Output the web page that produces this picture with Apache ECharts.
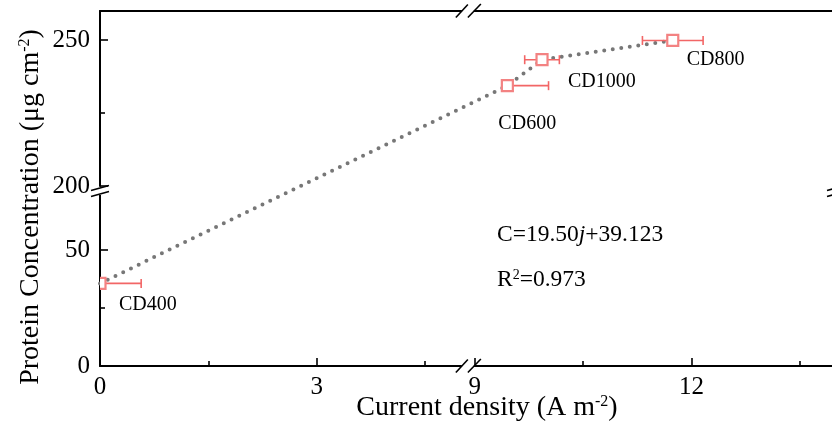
<!DOCTYPE html>
<html>
<head>
<meta charset="utf-8">
<script src="https://cdn.jsdelivr.net/npm/echarts@6.0.0/dist/echarts.min.js"></script>
<style>
html, body { margin: 0; padding: 0; background: #fff; }
#chart { width: 832px; height: 434px; }
</style>
</head>
<body>
<div id="chart"></div>
<script>
// values
const sampleNames = ['CD400', 'CD600', 'CD1000', 'CD800'];
const currentDensity = [0, 9.45, 9.93, 11.74];
const proteinConc = [35.6, 234.4, 243.3, 249.9];
const errLeft = [0, 0, 0.24, 0.42];
const errRight = [0.57, 0.57, 0.24, 0.42];

const xMajorTicks = [0, 3, 9, 12];
const xMinorTicks = [1.5, 4.5, 10.5, 13.5];
const yLowTicks = [0, 50];
const yLowMinor = [25];
const yHighTicks = [200, 250];
const yHighMinor = [225];
const xBreak = [5.19, 9];

// label offsets from the marker centre (px)
const labelOffset = { CD400: [19, 21], CD600: [-9, 38], CD1000: [26, 22], CD800: [14, 19] };

const serif = '"Liberation Serif", "Times New Roman", serif';
const black = '#000';
const boxColor = '#f38282';
const barColor = '#f26666';
const dotColor = '#777777';

const pts = sampleNames.map((n, i) => ({ name: n, value: [currentDensity[i], proteinConc[i], errLeft[i], errRight[i]] }));
const lowPts = pts.filter(p => p.value[1] < 200);
const highPts = pts.filter(p => p.value[1] >= 200);

const chart = echarts.init(document.getElementById('chart'));

const xCommon = {
  type: 'value', min: 0, max: 14,
  breaks: [{ start: xBreak[0], end: xBreak[1], gap: 0 }],
  breakArea: { show: false, itemStyle: { opacity: 0 } },
  splitLine: { show: false }
};
const lineSt = { color: black, width: 2 };
const tickSt = { color: black, width: 1.6 };
const tickLabel = { color: black, fontFamily: serif, fontSize: 25 };

function yAxisDef(grid, min, max, ticks, len, labels) {
  return {
    type: 'value', gridIndex: grid, min: min, max: max, position: 'left',
    axisLine: { show: labels, onZero: false, lineStyle: lineSt },
    axisTick: { inside: true, length: len, customValues: ticks, lineStyle: tickSt },
    axisLabel: labels ? Object.assign({ customValues: ticks, margin: 10 }, tickLabel) : { show: false },
    splitLine: { show: false }
  };
}

function makeRenderer(list) {
  return function (params, api) {
    const x = api.value(0), y = api.value(1), lo = api.value(2), hi = api.value(3);
    const c = api.coord([x, y]);
    const l = api.coord([x - lo, y]);
    const r = api.coord([x + hi, y]);
    const kids = [{
      type: 'line', shape: { x1: l[0], y1: c[1], x2: r[0], y2: c[1] },
      style: { stroke: barColor, lineWidth: 1.6 }
    }];
    if (lo > 0) kids.push({ type: 'line', shape: { x1: l[0], y1: c[1] - 4.5, x2: l[0], y2: c[1] + 4.5 }, style: { stroke: barColor, lineWidth: 1.6 } });
    if (hi > 0) kids.push({ type: 'line', shape: { x1: r[0], y1: c[1] - 4.5, x2: r[0], y2: c[1] + 4.5 }, style: { stroke: barColor, lineWidth: 1.6 } });
    kids.push({
      type: 'rect', shape: { x: c[0] - 5.5, y: c[1] - 5.5, width: 11, height: 11 },
      style: { fill: '#fff', stroke: boxColor, lineWidth: 2.2 }
    });
    const name = list[params.dataIndex].name;
    const off = labelOffset[name];
    kids.push({
      type: 'text', x: c[0] + off[0], y: c[1] + off[1],
      style: { text: name, fill: black, fontFamily: serif, fontSize: 20, align: 'left', verticalAlign: 'middle' }
    });
    return { type: 'group', children: kids };
  };
}

const option = {
  backgroundColor: '#fff',
  animation: false,
  grid: [
    { left: 100, top: 192, width: 736, height: 174, outerBoundsMode: 'none' },
    { left: 100, top: 11, width: 736, height: 175, outerBoundsMode: 'none' }
  ],
  xAxis: [
    Object.assign({}, xCommon, {
      gridIndex: 0, position: 'bottom',
      axisLine: { show: true, onZero: false, lineStyle: lineSt },
      axisTick: { inside: true, length: 8, customValues: xMajorTicks, lineStyle: tickSt },
      axisLabel: Object.assign({ customValues: xMajorTicks, margin: 9 }, tickLabel)
    }),
    Object.assign({}, xCommon, {
      gridIndex: 0, position: 'bottom',
      axisLine: { show: false, onZero: false },
      axisTick: { inside: true, length: 5, customValues: xMinorTicks, lineStyle: tickSt },
      axisLabel: { show: false }
    }),
    Object.assign({}, xCommon, {
      gridIndex: 1, position: 'top',
      axisLine: { show: true, onZero: false, lineStyle: lineSt },
      axisTick: { show: false },
      axisLabel: { show: false }
    })
  ],
  yAxis: [
    yAxisDef(0, 0, 75, yLowTicks, 8, true),
    yAxisDef(0, 0, 75, yLowMinor, 5, false),
    yAxisDef(1, 200, 260, yHighTicks, 8, true),
    yAxisDef(1, 200, 260, yHighMinor, 5, false)
  ],
  series: [
    { type: 'custom', xAxisIndex: 0, yAxisIndex: 0, clip: true, z: 5, data: lowPts, renderItem: makeRenderer(lowPts) },
    { type: 'custom', xAxisIndex: 2, yAxisIndex: 3, clip: true, z: 5, data: highPts, renderItem: makeRenderer(highPts) }
  ]
};
chart.setOption(option);

// dotted fit line drawn through the points, across the y break
const finder = p => p.value[1] >= 200 ? { xAxisIndex: 2, yAxisIndex: 3 } : { xAxisIndex: 0, yAxisIndex: 0 };
const linePts = pts.map(p => chart.convertToPixel(finder(p), [p.value[0], p.value[1]]));

const xb = chart.convertToPixel({ xAxisIndex: 0 }, xBreak[1]);
const xLeft = chart.convertToPixel({ xAxisIndex: 0 }, 0);
const xRight = chart.convertToPixel({ xAxisIndex: 0 }, 14);
const yBottom = chart.convertToPixel({ yAxisIndex: 0 }, 0);
const yTop = chart.convertToPixel({ yAxisIndex: 2 }, 260);
const yb = (chart.convertToPixel({ yAxisIndex: 2 }, 200) + chart.convertToPixel({ yAxisIndex: 0 }, 75)) / 2 + 2;

const markSt = { stroke: black, lineWidth: 1.6 };
function hBreak(xc, y) {
  return [
    { type: 'rect', shape: { x: xc - 13, y: y - 2, width: 12, height: 4 }, style: { fill: '#fff' }, z: 100 },
    { type: 'line', shape: { x1: xc - 19, y1: y + 6.5, x2: xc - 7, y2: y - 6.5 }, style: markSt, z: 101 },
    { type: 'line', shape: { x1: xc - 7, y1: y + 6.5, x2: xc + 6, y2: y - 7 }, style: markSt, z: 101 }
  ];
}
function vBreak(x, yc) {
  return [
    { type: 'rect', shape: { x: x - 2, y: yc - 4, width: 4, height: 8 }, style: { fill: '#fff' }, z: 100 },
    { type: 'line', shape: { x1: x - 9, y1: yc - 0.5, x2: x + 9, y2: yc - 5.5 }, style: markSt, z: 101 },
    { type: 'line', shape: { x1: x - 9, y1: yc + 5.5, x2: x + 9, y2: yc + 0.5 }, style: markSt, z: 101 }
  ];
}

const txt = { fill: black, fontFamily: serif };
chart.setOption({
  graphic: [
    {
      type: 'polyline', z: 1, shape: { points: linePts },
      style: { stroke: dotColor, lineWidth: 4, lineCap: 'round', lineDash: [0, 8.6], fill: null }
    },
    ...hBreak(xb, yBottom),
    ...hBreak(xb, yTop),
    ...vBreak(xLeft, yb),
    ...vBreak(xRight, yb),
    {
      type: 'text', x: 497, y: 235, z: 50,
      style: {
        text: '{n|C=19.50}{i|j}{n|+39.123}', verticalAlign: 'middle', align: 'left',
        rich: { n: Object.assign({ fontSize: 23.5 }, txt), i: Object.assign({ fontSize: 23.5, fontStyle: 'italic' }, txt) }
      }
    },
    {
      type: 'text', x: 497, y: 280, z: 50,
      style: {
        text: '{n|R}{s|2}{n|=0.973}', verticalAlign: 'middle', align: 'left',
        rich: { n: Object.assign({ fontSize: 23.5 }, txt), s: Object.assign({ fontSize: 14, verticalAlign: 'top' }, txt) }
      }
    },
    {
      type: 'text', x: 487, y: 408, z: 50,
      style: {
        text: '{n|Current density (A m}{s|-2}{n|)}', verticalAlign: 'middle', align: 'center',
        rich: { n: Object.assign({ fontSize: 28 }, txt), s: Object.assign({ fontSize: 16, verticalAlign: 'top' }, txt) }
      }
    },
    {
      type: 'text', x: 31, y: 207, z: 50, rotation: Math.PI / 2,
      style: {
        text: '{n|Protein Concentration (μg cm}{s|-2}{n|)}', verticalAlign: 'middle', align: 'center',
        rich: { n: Object.assign({ fontSize: 28 }, txt), s: Object.assign({ fontSize: 16, verticalAlign: 'top' }, txt) }
      }
    }
  ]
});
</script>
</body>
</html>
